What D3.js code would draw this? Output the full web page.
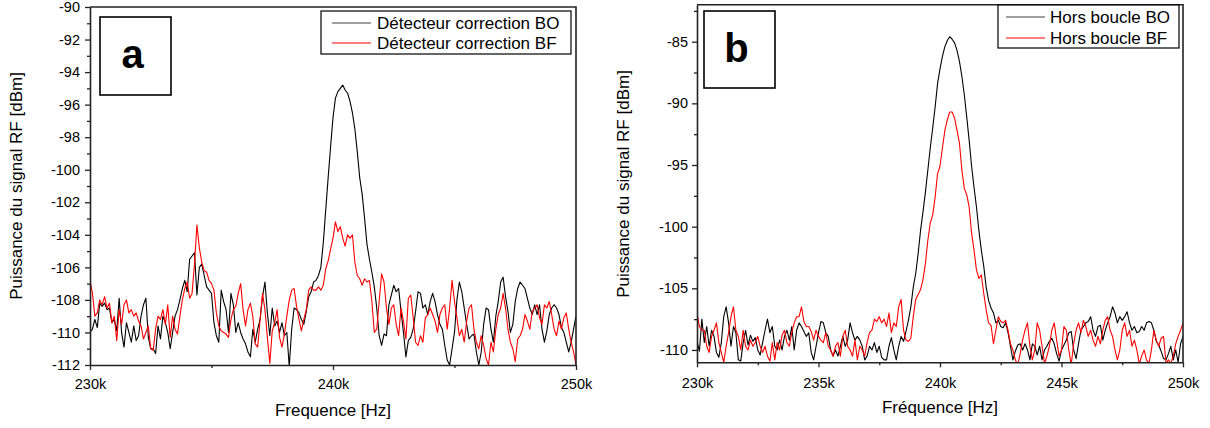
<!DOCTYPE html>
<html><head><meta charset="utf-8">
<script src="https://cdn.jsdelivr.net/npm/d3@7"></script>
<style>
body{margin:0;background:#fff}
svg{display:block}
text{font-family:"Liberation Sans",Arial,sans-serif;fill:#000}
</style>
</head><body>
<svg id="chart" width="1210" height="428"></svg>
<script>
// ---- DATA (frequency grid: 230 kHz to 250 kHz, step 0.1 kHz) ----
const freqStartK = 230;
const freqStepK = 0.1;

// Panel a : Détecteur correction BO (black)
const aBO = [
-110,-109.8,-109.2,-109.7,-108.2,-108.4,-108.2,-108.6,-108.5,-109.4,
-109.2,-109.9,-107.9,-110.0,-110.9,-109.4,-110.0,-110.6,-109.6,-110.5,
-110.2,-109.0,-108.3,-107.9,-110.3,-111.0,-111.0,-111.3,-109.6,-110.4,
-109.0,-109.4,-110.0,-111.0,-110.0,-109.0,-108.6,-108.0,-107.3,-106.8,
-107.5,
-105.5,-105.3,-105.1,-107.7,-106.0,-105.8,-106.5,-107.2,-107.4,-107.6,
-109.4,-110.2,-110.6,-107.4,-108.1,-108.6,-110.0,-107.6,-108.3,-110.0,
-109.4,-110.0,-110.4,-110.7,-111.2,-111.5,-109.8,-110.6,-109.8,-109.2,
-107.8,-106.9,-108.8,-110.2,-108.5,-109.6,-109.3,-110.0,-109.4,-110.2,
-110.0,-112.1,-109.8,-108.5,-108.6,-108.8,-109.2,-109.5,-108.7,-107.8,
-107.5,-106.9,-106.8,-106.5,-106.0,-104.5,-102.5,-100.5,-98.6,-96.8,
-95.6,-95.2,-95.0,-94.8,-95.1,-95.3,-95.8,-96.5,-97.5,-98.9,
-100.5,-101.5,-103.0,-104.6,-105.5,-106.3,-107.2,-108.5,-110.2,-110.8,
-110.1,-110.2,-108.3,-107.7,-107.1,-107.5,-107.3,-108.7,-110.0,-111.5,
-110.5,-110.3,-109.8,-108.7,-107.5,-107.6,-108.5,-108.3,-108.9,-108.1,
-107.6,-108.1,-108.9,-109.5,-109.8,-110.8,-111.7,-112.0,-111.0,-110.0,
-108.0,-106.9,-107.5,-108.5,-109.5,-110.4,-110.2,-110.1,-111.2,-112.0,
-111.2,-109.5,-108.5,-108.6,-109.8,-110.6,-109.0,-108.1,-106.9,-106.6,
-107.8,-108.7,-110.0,-109.5,-108.1,-107.3,-106.9,-107.1,-107.3,-107.9,
-108.5,-108.9,-108.3,-108.9,-108.3,-109.8,-110.6,-109.9,-108.9,-108.5,
-108.3,-108.5,-108.9,-109.7,-110.0,-110.6,-111.2,-110.6,-109.8,-109.0
];

// Panel a : Détecteur correction BF (red)
const aBF = [
-106.8,-107.6,-109.0,-108.8,-108.0,-108.3,-107.8,-108.5,-108.2,-109.4,
-109.0,-110.5,-108.6,-109.5,-108.3,-108.0,-108.8,-108.6,-109.0,-108.8,
-109.3,-109.6,-110.4,-110.0,-109.6,-111.0,-111.1,-109.8,-109.0,-109.2,
-108.6,-109.5,-108.3,-110.3,-109.0,-109.8,-110.1,-109.0,-108.0,-107.3,
-106.9,
-107.9,-107.6,-105.8,-103.4,-104.8,-105.7,-106.2,-106.3,-106.8,-107.0,
-107.4,-108.8,-109.6,-109.9,-110.0,-110.1,-110.3,-109.2,-108.6,-108.4,
-107.6,-107.0,-108.6,-109.6,-108.6,-108.2,-109.0,-110.7,-110.9,-109.2,
-107.6,-108.6,-110.3,-111.9,-109.9,-109.4,-108.6,-110.3,-110.9,-110.1,
-109.0,-108.0,-107.4,-107.3,-108.4,-109.2,-109.9,-109.2,-108.6,-107.4,
-107.2,-107.4,-107.4,-107.2,-107.4,-107.1,-106.1,-105.6,-104.9,-104.2,
-103.2,-103.8,-103.5,-104.2,-104.7,-104.0,-104.2,-104.0,-105.7,-106.5,
-106.7,-107.1,-106.7,-106.9,-106.8,-108.1,-110.0,-109.8,-108.1,-106.4,
-106.9,-108.5,-109.5,-108.5,-108.3,-109.5,-110.2,-108.5,-109.3,-110.4,
-107.9,-107.7,-109.1,-110.6,-110.8,-110.2,-110.6,-109.1,-108.9,-108.5,
-108.9,-109.3,-110.0,-108.9,-108.5,-108.3,-109.8,-108.5,-106.8,-108.1,
-109.1,-110.2,-109.8,-110.6,-109.3,-108.5,-108.3,-109.8,-110.6,-111.0,
-110.2,-110.8,-111.6,-112.0,-110.6,-111.2,-109.8,-108.9,-108.5,-107.6,
-108.5,-109.8,-110.6,-111.0,-111.8,-110.4,-110.2,-109.8,-108.9,-109.3,
-109.8,-108.7,-108.5,-108.3,-109.1,-109.5,-108.3,-108.5,-108.1,-108.9,
-109.8,-110.2,-109.3,-109.8,-109.1,-108.8,-109.8,-110.6,-111.2,-112.0
];

// Panel b : Hors boucle BO (black)
const bBO = [
-109.3,-110.1,-107.5,-109.4,-108.1,-109.7,-108.4,-108.9,-110.2,-110.6,-109.4,
-107.3,-106.5,-107.8,-109.7,-108.1,-108.6,-110.8,-110.9,-109.4,-108.4,
-109.6,-108.8,-109.3,-109.0,-110.0,-110.4,-109.4,-108.4,-107.5,-108.6,
-108.1,-109.7,-110.0,-109.2,-110.0,-108.9,-108.4,-109.2,-108.1,-110.0,
-108.4,-107.8,-108.1,-108.5,-108.9,-108.6,-110.2,-110.8,-109.7,-108.6,
-107.7,-107.8,-108.6,-108.9,-110.0,-110.5,-110.0,-110.5,-109.7,-108.9,
-109.7,-109.2,-107.8,-108.6,-109.2,-108.9,-109.2,-109.7,-110.8,-110.5,
-109.7,-110.0,-109.4,-110.2,-109.7,-110.6,-110.8,-110.8,-109.7,-109.0,
-110.0,-110.8,-109.7,-108.9,-109.3,-108.5,-107.6,-106.5,-104.9,-103.8,
-102.2,-100.3,-98.8,-97.2,-95.4,-93.6,-92.0,-90.3,-88.4,-87.2,
-86.2,-85.4,-84.9,-84.6,-84.8,-85.1,-85.7,-86.6,-87.8,-89.3,
-91.1,-93.0,-95.1,-96.8,-98.4,-100.3,-101.9,-103.2,-104.9,-106.0,
-106.6,-107.0,-107.8,-107.6,-108.1,-108.2,-107.8,-108.6,-109.7,-110.8,
-110.1,-109.6,-109.5,-110.0,-109.5,-110.0,-110.8,-109.5,-109.7,-110.4,
-109.7,-110.8,-110.0,-109.7,-109.3,-109.05,-109.5,-110.3,-110.9,-110.0,
-109.6,-109.2,-108.6,-108.5,-110.0,-110.7,-109.5,-108.4,-108.1,-107.8,
-107.7,-107.3,-108.4,-108.9,-108.1,-108.0,-109.2,-108.4,-107.8,-107.3,
-106.5,-107.0,-107.8,-107.3,-107.6,-107.3,-106.9,-107.8,-108.4,-108.1,
-108.6,-108.5,-108.1,-108.4,-107.8,-107.7,-107.8,-108.4,-109.3,-109.6,
-110.1,-110.7,-110.8,-110.3,-109.7,-110.8,-110.0,-111.0,-109.5,-108.9
];

// Panel b : Hors boucle BF (red)
const bBF = [
-107.0,-108.1,-108.4,-108.4,-109.7,-110.2,-108.9,-108.4,-107.8,-109.4,-110.2,
-111.0,-109.7,-108.6,-107.3,-106.5,-108.4,-108.9,-110.0,-108.4,-109.7,
-110.0,-109.2,-109.7,-109.4,-108.9,-109.7,-110.2,-109.7,-110.5,-110.9,
-109.4,-110.8,-109.4,-110.0,-108.8,-108.4,-109.4,-109.7,-108.6,-107.8,
-107.3,-107.3,-106.5,-107.7,-108.1,-108.1,-108.5,-109.2,-108.4,-108.9,
-109.2,-109.4,-108.6,-109.7,-110.0,-110.5,-109.7,-109.4,-110.5,-108.9,
-108.4,-109.7,-110.0,-110.5,-109.2,-110.8,-109.7,-110.0,-110.5,-109.4,
-108.6,-108.4,-107.5,-107.7,-107.3,-107.8,-107.5,-108.1,-107.0,-108.6,
-107.8,-108.1,-106.5,-105.9,-108.4,-109.2,-109.3,-109.05,-107.3,-105.9,
-105.5,-105.1,-104.3,-103.0,-101.1,-99.7,-99.05,-97.6,-95.7,-95.1,
-93.6,-92.2,-91.35,-90.7,-90.7,-91.2,-92.2,-93.2,-95.4,-96.9,
-97.4,-98.4,-100.5,-101.9,-103.5,-104.2,-103.9,-105.4,-106.75,-107.8,
-108.0,-109.5,-108.4,-107.3,-107.7,-107.8,-107.6,-108.4,-109.5,-110.0,
-110.8,-111.2,-110.3,-109.2,-108.4,-107.8,-109.7,-110.8,-110.0,-107.8,
-108.4,-109.7,-111.1,-110.5,-109.7,-108.4,-107.8,-109.2,-110.5,-110.0,
-108.1,-108.4,-110.0,-111.2,-109.5,-108.4,-107.8,-108.6,-107.6,-108.1,
-108.9,-108.4,-109.2,-109.7,-108.9,-109.5,-108.4,-107.6,-107.3,-108.4,
-108.9,-110.0,-110.8,-110.0,-108.4,-107.8,-108.9,-108.4,-109.7,-109.2,
-110.0,-111.1,-110.5,-110.0,-110.8,-111.1,-110.0,-108.4,-109.2,-109.7,
-109.05,-108.9,-111.1,-110.8,-111.1,-110.5,-109.5,-108.9,-108.4,-107.8
];

// Ticks / labels
const aXMajor = [230, 240, 250];
const aXMinor = [235, 245];
const aYMajor = [-112, -110, -108, -106, -104, -102, -100, -98, -96, -94, -92, -90];
const aYMinor = [-111, -109, -107, -105, -103, -101, -99, -97, -95, -93, -91];
const bXMajor = [230, 235, 240, 245, 250];
const bXMinor = [232.5, 237.5, 242.5, 247.5];
const bYMajor = [-110, -105, -100, -95, -90, -85];
const bYMinor = [-107.5, -102.5, -97.5, -92.5, -87.5, -82.5];
const aLegend = ["Détecteur correction BO", "Détecteur correction BF"];
const bLegend = ["Hors boucle BO", "Hors boucle BF"];
const seriesColors = ["#000000", "#ff0000"];
const yTitle = "Puissance du signal RF [dBm]";
const aXTitle = "Frequence [Hz]";
const bXTitle = "Fréquence [Hz]";

// ---- DRAWING ----
const svg = d3.select("#chart");

function panel(cfg, idx) {
  const g = svg.append("g");
  const x = d3.scaleLinear().domain([230, 250]).range([cfg.left, cfg.right]);
  const y = d3.scaleLinear().domain(cfg.yDomain).range([cfg.bottom, cfg.top]);

  const clipId = "clip" + idx;
  svg.append("clipPath").attr("id", clipId).append("rect")
    .attr("x", cfg.left).attr("y", cfg.top)
    .attr("width", cfg.right - cfg.left).attr("height", cfg.bottom - cfg.top);

  // data lines
  const line = d3.line()
    .x((d, i) => x(freqStartK + i * freqStepK))
    .y(d => y(d));
  cfg.series.forEach((s, k) => {
    g.append("path").datum(s)
      .attr("clip-path", `url(#${clipId})`)
      .attr("fill", "none")
      .attr("stroke", seriesColors[k])
      .attr("stroke-width", 1.1)
      .attr("stroke-linejoin", "round")
      .attr("d", line);
  });

  // frame (top/right)
  g.append("path")
    .attr("d", `M${cfg.left},${cfg.top}H${cfg.right}V${cfg.bottom}`)
    .attr("fill", "none").attr("stroke", "#222").attr("stroke-width", 1.6);

  // axes
  const xAxis = g.append("g").attr("transform", `translate(0,${cfg.bottom})`)
    .call(d3.axisBottom(x).tickValues(cfg.xMajor).tickSize(5).tickSizeOuter(0)
      .tickPadding(cfg.xPad).tickFormat(d => d + "k"));
  g.append("g").attr("transform", `translate(0,${cfg.bottom})`)
    .call(d3.axisBottom(x).tickValues(cfg.xMinor).tickSize(3).tickSizeOuter(0).tickFormat(""))
    .select(".domain").remove();
  const yAxis = g.append("g").attr("transform", `translate(${cfg.left},0)`)
    .call(d3.axisLeft(y).tickValues(cfg.yMajor).tickSize(5).tickSizeOuter(0)
      .tickPadding(cfg.yPad).tickFormat(d => String(d)));
  g.append("g").attr("transform", `translate(${cfg.left},0)`)
    .call(d3.axisLeft(y).tickValues(cfg.yMinor).tickSize(3).tickSizeOuter(0).tickFormat(""))
    .select(".domain").remove();
  g.selectAll(".domain").attr("stroke", "#222").attr("stroke-width", 1.6);
  g.selectAll(".tick line").attr("stroke", "#222").attr("stroke-width", 1.3);
  g.selectAll(".tick text").attr("font-size", 14.5)
    .attr("font-family", '"Liberation Sans",Arial,sans-serif').attr("fill", "#000");

  // axis titles
  g.append("text").attr("x", (cfg.left + cfg.right) / 2).attr("y", cfg.xTitleY)
    .attr("text-anchor", "middle").attr("font-size", 17).text(cfg.xTitle);
  g.append("text")
    .attr("transform", `translate(${cfg.yTitleX},${cfg.yTitleMid}) rotate(-90)`)
    .attr("text-anchor", "middle").attr("font-size", 17).text(yTitle);

  // letter box
  const lb = cfg.letterBox;
  g.append("rect").attr("x", lb.x).attr("y", lb.y).attr("width", lb.w).attr("height", lb.h)
    .attr("fill", "#fff").attr("stroke", "#000").attr("stroke-width", 1.6);
  g.append("text").attr("x", lb.x + lb.w / 2 - 3).attr("y", lb.baseline)
    .attr("text-anchor", "middle").attr("font-size", 40).attr("font-weight", "bold")
    .text(cfg.letter);

  // legend
  const lg = cfg.legendBox;
  g.append("rect").attr("x", lg.x).attr("y", lg.y).attr("width", lg.w).attr("height", lg.h)
    .attr("fill", "#fff").attr("stroke", "#000").attr("stroke-width", 1.2);
  cfg.legend.forEach((name, k) => {
    const ly = lg.rows[k];
    g.append("line").attr("x1", lg.lineX1).attr("x2", lg.lineX2)
      .attr("y1", ly).attr("y2", ly)
      .attr("stroke", k === 0 ? "#444" : seriesColors[k]).attr("stroke-width", 1.2);
    g.append("text").attr("x", lg.textX).attr("y", ly + 6)
      .attr("font-size", 17).text(name);
  });
}

panel({
  left: 90, right: 576, top: 7, bottom: 365,
  yDomain: [-112, -90],
  xMajor: aXMajor, xMinor: aXMinor, yMajor: aYMajor, yMinor: aYMinor,
  xPad: 9, yPad: 5,
  series: [aBO, aBF],
  xTitle: aXTitle, xTitleY: 416, yTitleX: 22, yTitleMid: 186,
  letter: "a", letterBox: {x: 100, y: 17, w: 71, h: 78, baseline: 68},
  legend: aLegend,
  legendBox: {x: 321, y: 11, w: 250, h: 43, rows: [23, 43], lineX1: 332, lineX2: 371, textX: 377}
}, 0);

panel({
  left: 697, right: 1183, top: 4.7, bottom: 362.3,
  yDomain: [-111, -82],
  xMajor: bXMajor, xMinor: bXMinor, yMajor: bYMajor, yMinor: bYMinor,
  xPad: 10, yPad: 4,
  series: [bBO, bBF],
  xTitle: bXTitle, xTitleY: 413, yTitleX: 629, yTitleMid: 184,
  letter: "b", letterBox: {x: 704, y: 11, w: 71, h: 77, baseline: 62},
  legend: bLegend,
  legendBox: {x: 998, y: 5, w: 181, h: 43, rows: [17, 38], lineX1: 1006, lineX2: 1045, textX: 1050}
}, 1);
</script>
</body></html>
